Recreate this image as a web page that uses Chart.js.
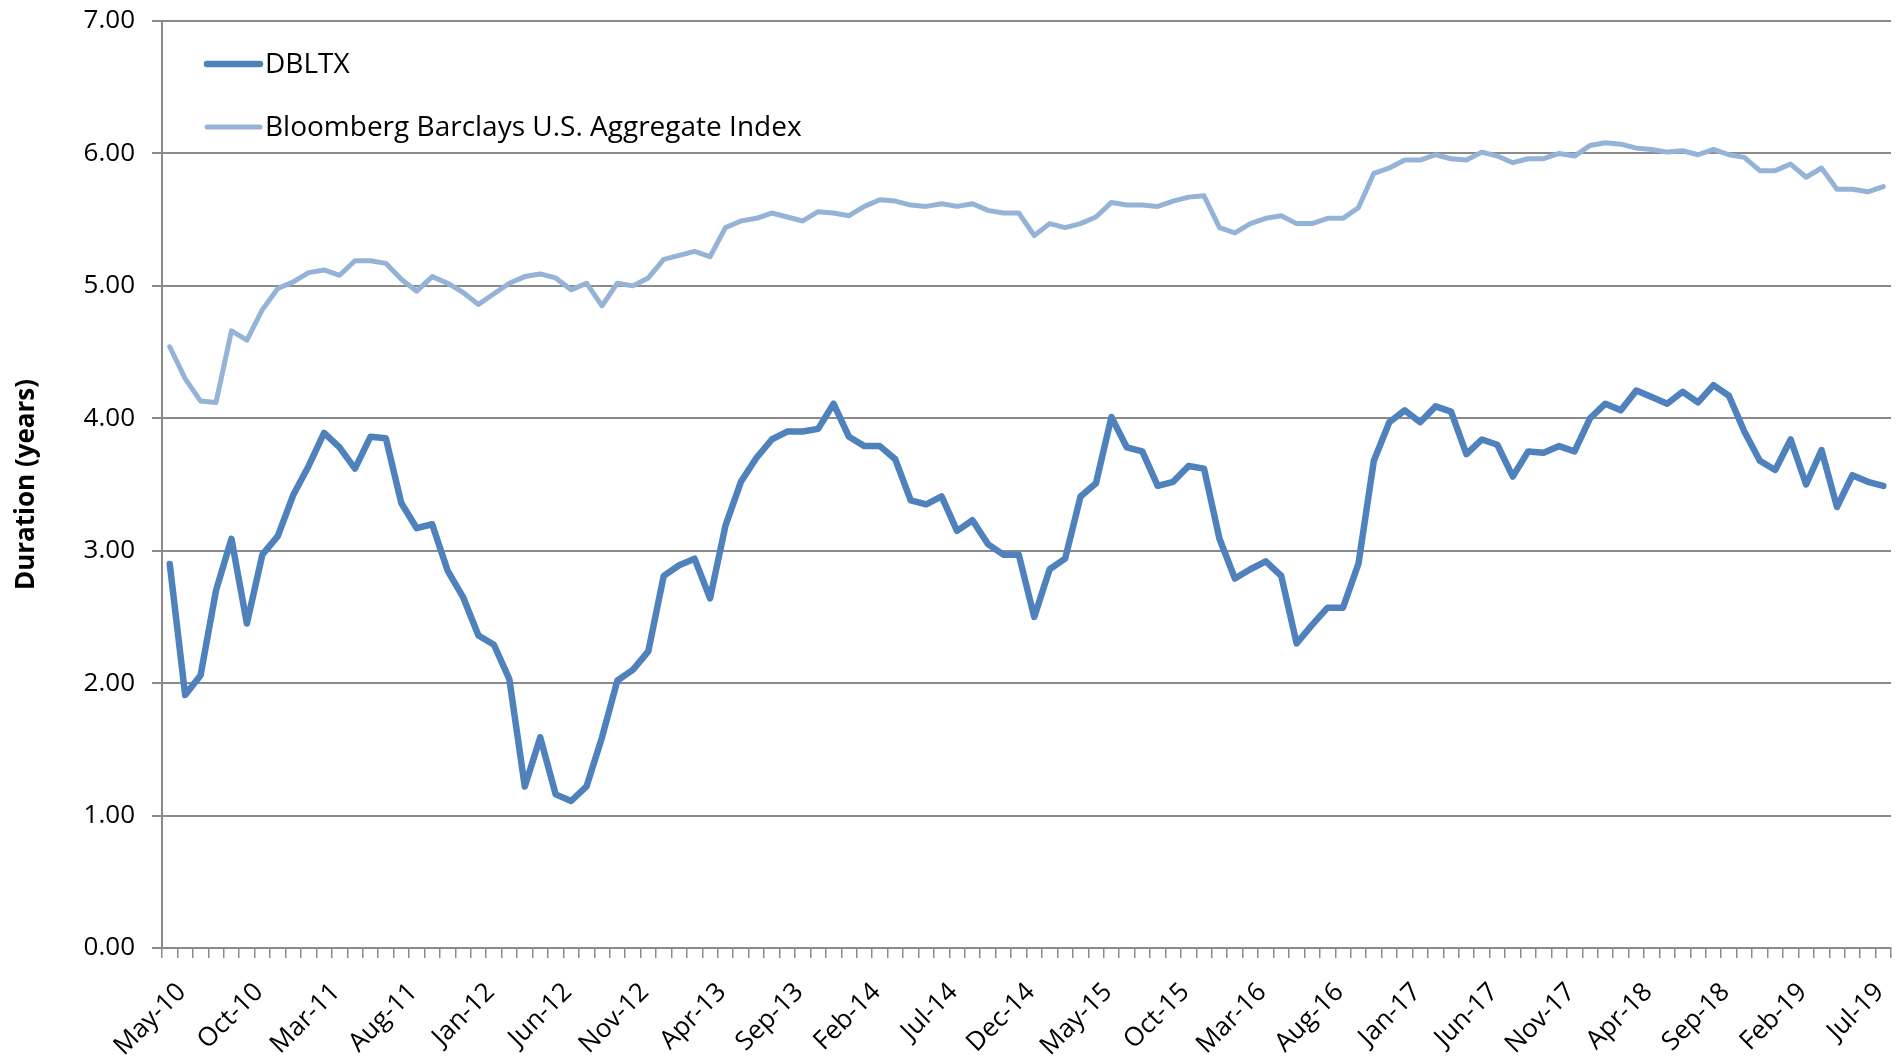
<!DOCTYPE html>
<html>
<head>
<meta charset="utf-8">
<title>Duration: DBLTX vs Bloomberg Barclays U.S. Aggregate Index</title>
<script src="https://cdn.jsdelivr.net/npm/chart.js@4/dist/chart.umd.min.js"></script>
<style>
  html, body { margin: 0; padding: 0; background: #ffffff; }
  #wrap { width: 1898px; height: 1062px; position: relative; }
  canvas { display: block; }
</style>
</head>
<body>
<div id="wrap"><canvas id="chart" width="1898" height="1062"></canvas></div>
<script>
// Month-end observations, May 2010 through Aug 2019
const months = [
  'May-10','Jun-10','Jul-10','Aug-10','Sep-10','Oct-10','Nov-10','Dec-10',
  'Jan-11','Feb-11','Mar-11','Apr-11','May-11','Jun-11','Jul-11','Aug-11','Sep-11','Oct-11','Nov-11','Dec-11',
  'Jan-12','Feb-12','Mar-12','Apr-12','May-12','Jun-12','Jul-12','Aug-12','Sep-12','Oct-12','Nov-12','Dec-12',
  'Jan-13','Feb-13','Mar-13','Apr-13','May-13','Jun-13','Jul-13','Aug-13','Sep-13','Oct-13','Nov-13','Dec-13',
  'Jan-14','Feb-14','Mar-14','Apr-14','May-14','Jun-14','Jul-14','Aug-14','Sep-14','Oct-14','Nov-14','Dec-14',
  'Jan-15','Feb-15','Mar-15','Apr-15','May-15','Jun-15','Jul-15','Aug-15','Sep-15','Oct-15','Nov-15','Dec-15',
  'Jan-16','Feb-16','Mar-16','Apr-16','May-16','Jun-16','Jul-16','Aug-16','Sep-16','Oct-16','Nov-16','Dec-16',
  'Jan-17','Feb-17','Mar-17','Apr-17','May-17','Jun-17','Jul-17','Aug-17','Sep-17','Oct-17','Nov-17','Dec-17',
  'Jan-18','Feb-18','Mar-18','Apr-18','May-18','Jun-18','Jul-18','Aug-18','Sep-18','Oct-18','Nov-18','Dec-18',
  'Jan-19','Feb-19','Mar-19','Apr-19','May-19','Jun-19','Jul-19','Aug-19'
];

// Effective duration of the fund (years)
const dbltx = [
  2.90, 1.91, 2.06, 2.70, 3.09, 2.45, 2.97, 3.11,
  3.42, 3.64, 3.89, 3.78, 3.62, 3.86, 3.85, 3.36, 3.17, 3.20, 2.85, 2.65,
  2.36, 2.29, 2.03, 1.22, 1.59, 1.16, 1.11, 1.22, 1.59, 2.02, 2.10, 2.24,
  2.81, 2.89, 2.94, 2.64, 3.19, 3.52, 3.70, 3.84, 3.90, 3.90, 3.92, 4.11,
  3.86, 3.79, 3.79, 3.69, 3.38, 3.35, 3.41, 3.15, 3.23, 3.05, 2.97, 2.97,
  2.50, 2.86, 2.94, 3.41, 3.51, 4.01, 3.78, 3.75, 3.49, 3.52, 3.64, 3.62,
  3.09, 2.79, 2.86, 2.92, 2.81, 2.30, 2.44, 2.57, 2.57, 2.90, 3.68, 3.97,
  4.06, 3.97, 4.09, 4.05, 3.73, 3.84, 3.80, 3.56, 3.75, 3.74, 3.79, 3.75,
  4.00, 4.11, 4.06, 4.21, 4.16, 4.11, 4.20, 4.12, 4.25, 4.17, 3.90, 3.68,
  3.61, 3.84, 3.50, 3.76, 3.33, 3.57, 3.52, 3.49
];

// Duration of the benchmark index (years)
const aggIndex = [
  4.54, 4.30, 4.13, 4.12, 4.66, 4.59, 4.82, 4.98,
  5.03, 5.10, 5.12, 5.08, 5.19, 5.19, 5.17, 5.05, 4.96, 5.07, 5.02, 4.95,
  4.86, 4.94, 5.02, 5.07, 5.09, 5.06, 4.97, 5.02, 4.85, 5.02, 5.00, 5.06,
  5.20, 5.23, 5.26, 5.22, 5.44, 5.49, 5.51, 5.55, 5.52, 5.49, 5.56, 5.55,
  5.53, 5.60, 5.65, 5.64, 5.61, 5.60, 5.62, 5.60, 5.62, 5.57, 5.55, 5.55,
  5.38, 5.47, 5.44, 5.47, 5.52, 5.63, 5.61, 5.61, 5.60, 5.64, 5.67, 5.68,
  5.44, 5.40, 5.47, 5.51, 5.53, 5.47, 5.47, 5.51, 5.51, 5.59, 5.85, 5.89,
  5.95, 5.95, 5.99, 5.96, 5.95, 6.01, 5.98, 5.93, 5.96, 5.96, 6.00, 5.98,
  6.06, 6.08, 6.07, 6.04, 6.03, 6.01, 6.02, 5.99, 6.03, 5.99, 5.97, 5.87,
  5.87, 5.92, 5.82, 5.89, 5.73, 5.73, 5.71, 5.75
];

const seriesNames = ['DBLTX', 'Bloomberg Barclays U.S. Aggregate Index'];
const yTicks = [0, 1, 2, 3, 4, 5, 6, 7];
const labelEvery = 5;

const FONT = '"Open Sans", "Liberation Sans", sans-serif';
const GRID = '#8a8a8a';

// Legend drawn inside the plot, top-left, as line swatches followed by names
const insideLegend = {
  id: 'insideLegend',
  afterDatasetsDraw(chart) {
    const ctx = chart.ctx;
    const x0 = chart.chartArea.left + 45;
    const rows = [chart.chartArea.top + 43, chart.chartArea.top + 106];
    ctx.save();
    chart.data.datasets.forEach((ds, i) => {
      const y = rows[i];
      ctx.beginPath();
      ctx.lineCap = 'round';
      ctx.strokeStyle = ds.borderColor;
      ctx.lineWidth = ds.borderWidth;
      ctx.moveTo(x0, y);
      ctx.lineTo(x0 + 53, y);
      ctx.stroke();
      ctx.fillStyle = '#000000';
      ctx.font = '28px ' + FONT;
      ctx.textBaseline = 'middle';
      ctx.textAlign = 'left';
      ctx.fillText(ds.label, x0 + 58, y + 1);
    });
    ctx.restore();
  }
};

new Chart(document.getElementById('chart'), {
  type: 'line',
  data: {
    labels: months,
    datasets: [
      {
        label: seriesNames[0],
        data: dbltx,
        borderColor: '#4f81bd',
        backgroundColor: '#4f81bd',
        borderWidth: 6.5,
        pointRadius: 0,
        tension: 0,
        borderJoinStyle: 'round',
        borderCapStyle: 'round'
      },
      {
        label: seriesNames[1],
        data: aggIndex,
        borderColor: '#95b3d7',
        backgroundColor: '#95b3d7',
        borderWidth: 5,
        pointRadius: 0,
        tension: 0,
        borderJoinStyle: 'round',
        borderCapStyle: 'round'
      }
    ]
  },
  options: {
    responsive: false,
    animation: false,
    devicePixelRatio: 1,
    layout: { padding: { left: 0, right: 7, top: 21, bottom: 0 } },
    plugins: {
      legend: { display: false },
      tooltip: { enabled: false }
    },
    scales: {
      x: {
        type: 'category',
        offset: true,
        grid: {
          offset: true,
          drawOnChartArea: false,
          drawTicks: true,
          tickLength: 10,
          color: GRID,
          lineWidth: 1.5
        },
        border: { display: true, color: GRID, width: 2 },
        ticks: {
          autoSkip: false,
          minRotation: 45,
          maxRotation: 45,
          padding: 19,
          labelOffset: 12,
          color: '#000000',
          font: { family: FONT, size: 26 },
          callback: (v, i) => (i % labelEvery === 0 ? months[i] : '')
        },
        afterFit: (s) => {
          s.height = 114;
          s.paddingLeft = 0;
          s.paddingRight = 0;
        }
      },
      y: {
        min: yTicks[0],
        max: yTicks[yTicks.length - 1],
        afterBuildTicks: (s) => { s.ticks = yTicks.map(v => ({ value: v })); },
        grid: {
          color: GRID,
          lineWidth: 2,
          drawTicks: true,
          tickLength: 10
        },
        border: { display: true, color: GRID, width: 2 },
        ticks: {
          padding: 17,
          color: '#000000',
          font: { family: FONT, size: 26 },
          callback: (v) => Number(v).toFixed(2)
        },
        title: {
          display: true,
          text: 'Duration (years)',
          color: '#000000',
          font: { family: FONT, size: 26, weight: 'bold' },
          padding: { top: 11, bottom: 0 }
        },
        afterFit: (s) => {
          s.width = 162;
          s.paddingTop = 0;
          s.paddingBottom = 0;
        }
      }
    }
  },
  plugins: [insideLegend]
});
</script>
</body>
</html>
